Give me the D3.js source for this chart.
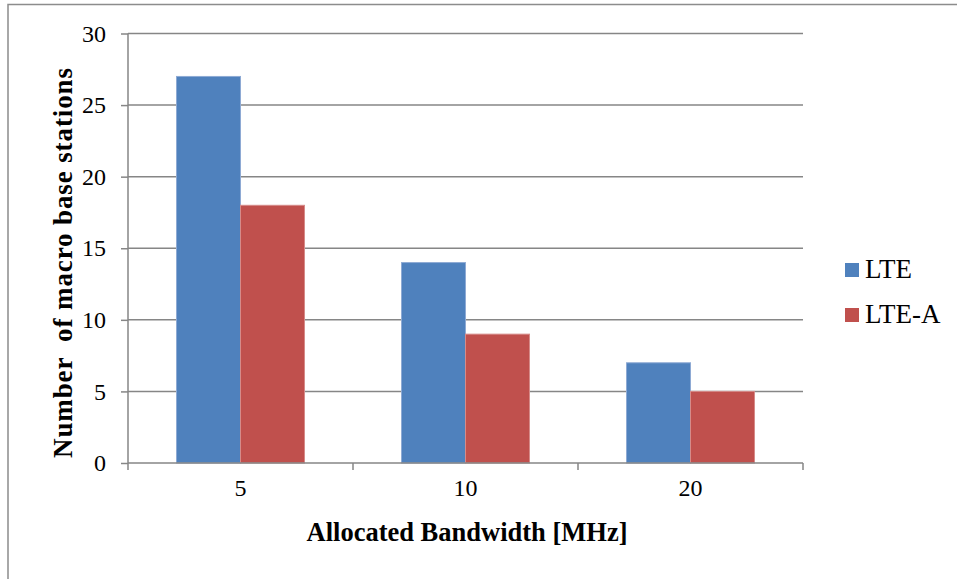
<!DOCTYPE html>
<html>
<head>
<meta charset="utf-8">
<script src="https://cdn.jsdelivr.net/npm/d3@7"></script>
<style>
  body { margin: 0; background: #ffffff; }
  svg { display: block; font-family: "Liberation Serif", "Times New Roman", serif; }
</style>
</head>
<body>
<svg id="CHART" width="957" height="579"></svg>
<script>
// Data
var bandwidths = ["5", "10", "20"];
var seriesNames = ["LTE", "LTE-A"];
var lteValues = [27, 14, 7];
var lteaValues = [18, 9, 5];
var yTicks = [0, 5, 10, 15, 20, 25, 30];

var colors = ["#4f81bd", "#c0504d"];
var edgeColors = ["#8eaad4", "#d68b89"];

let svg = d3.select("#CHART");

const PLOT = { LEFT: 128, RIGHT: 803, TOP: 33.5, BOTTOM: 463 };

// outer frame (only left and top edges show in the picture)
svg.append("path")
  .attr("d", "M8,579 L8,4.5 L957,4.5")
  .attr("fill", "none")
  .attr("stroke", "#8c8c8c")
  .attr("stroke-width", 1.5);

let yScale = d3.scaleLinear()
  .domain([0, 30])
  .range([PLOT.BOTTOM, PLOT.TOP]);

let x0 = d3.scaleBand()
  .domain(bandwidths)
  .range([PLOT.LEFT, PLOT.RIGHT])
  .paddingInner(0)
  .paddingOuter(0);

let x1 = d3.scaleBand()
  .domain(seriesNames)
  .range([0, x0.bandwidth()])
  .paddingInner(0)
  .paddingOuter(0.758);

// gridlines
svg.append("g")
  .selectAll("line")
  .data(yTicks.filter(d => d > 0))
  .enter()
  .append("line")
  .attr("x1", PLOT.LEFT)
  .attr("x2", PLOT.RIGHT)
  .attr("y1", d => yScale(d))
  .attr("y2", d => yScale(d))
  .attr("stroke", "#868686")
  .attr("stroke-width", 1.5);

// bars
let rows = bandwidths.map((b, i) => ({ key: b, values: [lteValues[i], lteaValues[i]] }));

let groups = svg.append("g")
  .selectAll("g")
  .data(rows)
  .enter()
  .append("g")
  .attr("transform", d => `translate(${x0(d.key)},0)`);

groups.selectAll("rect")
  .data(d => d.values.map((v, j) => ({ name: seriesNames[j], value: v, idx: j })))
  .enter()
  .append("rect")
  .attr("x", d => x1(d.name))
  .attr("y", d => yScale(d.value))
  .attr("width", x1.bandwidth())
  .attr("height", d => yScale(0) - yScale(d.value))
  .attr("fill", d => colors[d.idx])
  .attr("stroke", d => edgeColors[d.idx])
  .attr("stroke-width", 1);

// y axis
let yAxis = d3.axisLeft(yScale).tickValues(yTicks).tickSize(7).tickPadding(15);
let yG = svg.append("g")
  .attr("transform", `translate(${PLOT.LEFT},0)`)
  .call(yAxis);
yG.select(".domain").attr("stroke", "#868686").attr("stroke-width", 1.5)
  .attr("d", `M0,${PLOT.TOP}V${PLOT.BOTTOM}`);
yG.selectAll(".tick line").attr("stroke", "#868686").attr("stroke-width", 1.5);
yG.selectAll("text")
  .style("font-family", "Liberation Serif, serif")
  .style("font-size", "24px")
  .attr("fill", "#000");

// x axis: labels at centers, tick marks at category edges
let xAxis = d3.axisBottom(x0).tickSize(0).tickPadding(16);
let xG = svg.append("g")
  .attr("transform", `translate(0,${PLOT.BOTTOM})`)
  .call(xAxis);
xG.select(".domain").attr("stroke", "#868686").attr("stroke-width", 1.5)
  .attr("d", `M${PLOT.LEFT},0H${PLOT.RIGHT}`);
xG.selectAll("text")
  .style("font-family", "Liberation Serif, serif")
  .style("font-size", "24px")
  .attr("fill", "#000");

let edges = bandwidths.map(b => x0(b)).concat([PLOT.RIGHT]);
xG.selectAll(".edge")
  .data(edges)
  .enter()
  .append("line")
  .attr("class", "edge")
  .attr("x1", d => d)
  .attr("x2", d => d)
  .attr("y1", 0)
  .attr("y2", 7)
  .attr("stroke", "#868686")
  .attr("stroke-width", 1.5);

// axis titles
svg.append("text")
  .attr("x", 467)
  .attr("y", 541)
  .attr("text-anchor", "middle")
  .style("font-size", "26.5px")
  .style("font-weight", "bold")
  .text("Allocated Bandwidth [MHz]");

svg.append("text")
  .attr("transform", "translate(72,263) rotate(-90)")
  .attr("text-anchor", "middle")
  .attr("textLength", 390)
  .attr("lengthAdjust", "spacing")
  .style("font-size", "27px")
  .style("font-weight", "bold")
  .style("white-space", "pre")
  .attr("xml:space", "preserve")
  .text("Number  of macro base stations");

// legend
let legend = svg.append("g")
  .selectAll("g")
  .data(seriesNames)
  .enter()
  .append("g")
  .attr("transform", (d, i) => `translate(845,${263 + i * 45})`);

legend.append("rect")
  .attr("width", 14)
  .attr("height", 14)
  .attr("fill", (d, i) => colors[i]);

legend.append("text")
  .attr("x", 20)
  .attr("y", 15)
  .style("font-size", "27px")
  .text(d => d);
</script>
</body>
</html>
